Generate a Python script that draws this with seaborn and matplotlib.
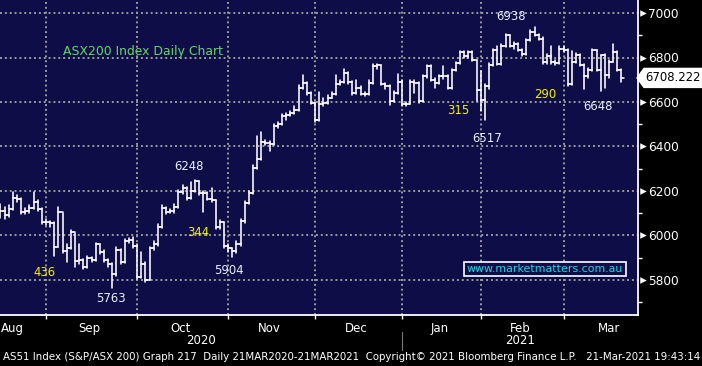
import numpy as np
import pandas as pd
import matplotlib
matplotlib.use("Agg")
import matplotlib.pyplot as plt
import matplotlib.transforms as mtransforms
from matplotlib.lines import Line2D
from matplotlib.patches import Polygon
import seaborn as sns

# ---------------- data ----------------
month_names = ["Aug", "Sep", "Oct", "Nov", "Dec", "Jan", "Feb", "Mar"]
year_labels = ["2020", "2021"]

first_open = 6130

aug_close = [6110, 6090, 6120, 6170, 6165, 6105, 6110, 6125, 6150, 6120, 6060]
aug_high = [6140, 6130, 6135, 6195, 6180, 6170, 6125, 6135, 6195, 6160, 6125]
aug_low = [6080, 6075, 6085, 6115, 6150, 6095, 6095, 6100, 6120, 6110, 6050]

sep_close = [6060, 6055, 5950, 6105, 5930, 5945, 6015, 5885, 5890, 5860, 5900,
             5890, 5960, 5925, 5890, 5870, 5825, 5935, 5880, 5975, 5980, 5955]
sep_high = [6075, 6065, 6060, 6130, 6100, 5960, 6025, 6010, 5960, 5895, 5910,
            5905, 5965, 5960, 5935, 5895, 5875, 5950, 5940, 5985, 5990, 5995]
sep_low = [6045, 6040, 5910, 5950, 5920, 5880, 5940, 5860, 5870, 5850, 5855,
           5880, 5885, 5915, 5880, 5860, 5763, 5820, 5870, 5875, 5965, 5945]

oct_close = [5815, 5870, 5800, 5945, 5960, 6040, 6125, 6105, 6110, 6130, 6195,
             6215, 6170, 6200, 6245, 6190, 6190, 6165, 6160, 6040, 6060, 5955]
oct_high = [5960, 5925, 5880, 5950, 5975, 6050, 6135, 6130, 6120, 6140, 6205,
            6225, 6220, 6240, 6248, 6245, 6200, 6195, 6215, 6160, 6070, 6060]
oct_low = [5805, 5810, 5790, 5800, 5935, 5955, 6035, 6095, 6100, 6100, 6125,
           6185, 6160, 6165, 6195, 6180, 6105, 6160, 6150, 6030, 6030, 5945]

nov_close = [5945, 5930, 5960, 6065, 6145, 6190, 6305, 6345, 6420, 6415, 6410,
             6490, 6500, 6535, 6540, 6550, 6565, 6665, 6685, 6640, 6595]
nov_high = [5960, 5945, 5975, 6075, 6155, 6200, 6315, 6445, 6465, 6430, 6425,
            6500, 6510, 6545, 6550, 6560, 6580, 6675, 6720, 6690, 6645]
nov_low = [5925, 5904, 5920, 5955, 6055, 6140, 6185, 6300, 6340, 6405, 6380,
           6405, 6485, 6495, 6520, 6535, 6545, 6560, 6660, 6630, 6590]

dec_close = [6520, 6590, 6595, 6620, 6635, 6680, 6690, 6730, 6690, 6640, 6665,
             6635, 6635, 6685, 6760, 6765, 6680, 6670, 6605, 6640, 6690]
dec_high = [6600, 6645, 6620, 6630, 6645, 6720, 6700, 6750, 6735, 6695, 6700,
            6670, 6645, 6700, 6770, 6770, 6765, 6685, 6675, 6650, 6725]
dec_low = [6510, 6515, 6580, 6590, 6620, 6630, 6675, 6685, 6680, 6630, 6635,
           6630, 6625, 6630, 6680, 6750, 6675, 6660, 6585, 6600, 6635]

jan_close = [6590, 6590, 6690, 6685, 6605, 6715, 6760, 6700, 6685, 6715, 6715,
             6665, 6745, 6775, 6825, 6805, 6825, 6790, 6655]
jan_high = [6700, 6600, 6700, 6700, 6690, 6720, 6765, 6765, 6710, 6720, 6760,
            6720, 6750, 6780, 6830, 6830, 6830, 6830, 6790]
jan_low = [6580, 6580, 6590, 6640, 6595, 6600, 6710, 6695, 6665, 6680, 6705,
           6660, 6660, 6740, 6770, 6800, 6800, 6785, 6605]

feb_close = [6610, 6670, 6765, 6835, 6770, 6850, 6900, 6850, 6860, 6835, 6815,
             6880, 6915, 6900, 6885, 6780, 6805, 6780, 6775, 6840]
feb_high = [6740, 6680, 6775, 6840, 6850, 6860, 6905, 6900, 6870, 6865, 6840,
            6885, 6925, 6938, 6905, 6890, 6815, 6850, 6790, 6850]
feb_low = [6560, 6517, 6660, 6760, 6765, 6765, 6845, 6845, 6840, 6830, 6805,
           6810, 6875, 6895, 6880, 6770, 6770, 6770, 6765, 6770]

mar_close = [6835, 6680, 6780, 6810, 6765, 6715, 6745, 6835, 6745, 6810, 6720,
             6780, 6825, 6745, 6708.222]
mar_high = [6850, 6840, 6830, 6820, 6815, 6770, 6755, 6840, 6835, 6810, 6815,
            6790, 6860, 6830, 6750]
mar_low = [6825, 6670, 6675, 6775, 6760, 6660, 6710, 6740, 6740, 6648, 6665,
           6710, 6780, 6740, 6690]

ytick_values = [5800, 6000, 6200, 6400, 6600, 6800, 7000]
yminor_values = [5700, 5900, 6100, 6300, 6500, 6700, 6900]
last_price = 6708.222

white_labels = ["6938", "6248", "5904", "5763", "6517", "6648"]
yellow_labels = ["436", "344", "315", "290"]
title_text = "ASX200 Index Daily Chart"
watermark = "www.marketmatters.com.au"
footer = ("AS51 Index (S&P/ASX 200) Graph 217  Daily 21MAR2020-21MAR2021  "
          "Copyright\u00a9 2021 Bloomberg Finance L.P.   21-Mar-2021 19:43:14")

# ---------------- assemble ----------------
closes = aug_close + sep_close + oct_close + nov_close + dec_close + jan_close + feb_close + mar_close
highs = aug_high + sep_high + oct_high + nov_high + dec_high + jan_high + feb_high + mar_high
lows = aug_low + sep_low + oct_low + nov_low + dec_low + jan_low + feb_low + mar_low
month_lengths = [len(m) for m in (aug_close, sep_close, oct_close, nov_close,
                                  dec_close, jan_close, feb_close, mar_close)]
opens = [first_open] + closes[:-1]
n = len(closes)

rows = []
for i in range(n):
    rows += [(i, lows[i], f"v{i}"), (i, highs[i], f"v{i}"),
             (i - 0.5, opens[i], f"o{i}"), (i, opens[i], f"o{i}"),
             (i, closes[i], f"c{i}"), (i + 0.5, closes[i], f"c{i}")]
df = pd.DataFrame(rows, columns=["x", "y", "seg"])

month_starts = np.cumsum([0] + month_lengths[:-1])

# ---------------- figure ----------------
sns.set_theme(style="dark")
plt.rcParams["font.family"] = ["DejaVu Sans"]

W, H = 702, 366
fig = plt.figure(figsize=(W / 100, H / 100), dpi=100, facecolor="black")
AXW, AXH = 638, 315
ax = fig.add_axes([0, (H - AXH) / H, AXW / W, AXH / H])
navy = "#0f0d47"
ax.set_facecolor(navy)

sns.lineplot(data=df, x="x", y="y", units="seg", estimator=None, sort=False,
             color="white", lw=1.15, ax=ax, legend=False)

px_per_bar = 4.14
x_left = month_starts[1] - 46 / px_per_bar
x_right = month_starts[1] + (AXW - 46) / px_per_bar
ax.set_xlim(x_left, x_right)
ppp = 0.2225  # pixels per point
ax.set_ylim(7000 - (AXH - 13) / ppp, 7000 + 13 / ppp)

# grid
grid_kw = dict(color="#9a9a9a", lw=1.4, linestyle=(0, (1, 1.5)), zorder=0)
for v in ytick_values:
    ax.axhline(v, **grid_kw)
for s in month_starts[1:]:
    ax.axvline(s, **grid_kw)
ax.grid(False)

for side in ["top", "left"]:
    ax.spines[side].set_visible(False)
for side in ["right", "bottom"]:
    ax.spines[side].set_visible(True)
    ax.spines[side].set_color("white")
    ax.spines[side].set_linewidth(1.3)

ax.set_xlabel("")
ax.set_ylabel("")

# y axis on right
ax.yaxis.tick_right()
ax.set_yticks(ytick_values)
ax.set_yticklabels([str(v) for v in ytick_values])
ax.set_yticks(yminor_values, minor=True)
ax.tick_params(axis="y", which="major", length=0, pad=7.0, labelsize=8.7,
               labelcolor="white", right=True, left=False, labelright=True, labelleft=False)
ax.tick_params(axis="y", which="minor", length=3.2, width=1, color="white",
               right=True, left=False)
tri_tr = mtransforms.blended_transform_factory(ax.transAxes, ax.transData)
ax.scatter([1 + 5 / AXW] * len(ytick_values), ytick_values, marker=">", s=22,
           color="white", transform=tri_tr, clip_on=False, zorder=5, linewidths=0)

# x axis
ax.set_xticks(month_starts[1:])
ax.set_xticklabels([])
ax.tick_params(axis="x", which="major", length=3, width=1, color="white",
               bottom=True, direction="out")
mids = [x_left + 12 / px_per_bar]
full_month_days = [21, 22, 22, 21, 21, 19, 20, 23]
for k in range(1, len(month_names)):
    mids.append(month_starts[k] + (full_month_days[k] - 1) / 2)
ax.set_xticks(mids, minor=True)
ax.set_xticklabels(month_names, minor=True)
ax.tick_params(axis="x", which="minor", length=0, pad=5, labelsize=8.5,
               labelcolor="white")

def fx(px):
    return px / W

def fy(py):
    return 1 - py / H

# year row
fig.text(fx(201), fy(341), year_labels[0], ha="center", va="center", color="white", fontsize=8.5)
fig.text(fx(520), fy(341), year_labels[1], ha="center", va="center", color="white", fontsize=8.5)
fig.add_artist(Line2D([fx(402), fx(402)], [fy(332), fy(350)], color="#7a7a7a", lw=0.8))

# footer
fig.text(fx(3), fy(357), footer, ha="left", va="center", color="white", fontsize=7.35)

# title
fig.text(fx(63), fy(52), title_text, ha="left", va="center", color="#62d862", fontsize=8.9)

# value labels
white_pos = [(511, 17), (189, 167), (229, 270), (111, 299), (487, 138), (598, 107)]
yellow_pos = [(44, 273), (198, 232), (458, 111), (545, 95)]
for t, (px, py) in zip(white_labels, white_pos):
    fig.text(fx(px), fy(py), t, ha="center", va="center", color="#e8f0ff", fontsize=8.4)
for t, (px, py) in zip(yellow_labels, yellow_pos):
    fig.text(fx(px), fy(py), t, ha="center", va="center", color="#f2f200", fontsize=8.4)

# watermark
fig.text(fx(545), fy(269), watermark, ha="center", va="center", color="#1ad6e6",
         fontsize=7.9, bbox=dict(boxstyle="square,pad=0.22", fc=navy, ec="white", lw=1.2))

# last price tag
py_last = 13 + (7000 - last_price) * ppp
poly = Polygon([(fx(637), fy(py_last)), (fx(644), fy(py_last - 9.5)), (fx(702), fy(py_last - 9.5)),
                (fx(702), fy(py_last + 9.5)), (fx(644), fy(py_last + 9.5))],
               closed=True, transform=fig.transFigure, fc="white", ec="white", zorder=10)
fig.add_artist(poly)
fig.text(fx(673), fy(py_last), f"{last_price:.3f}", ha="center", va="center",
         color="black", fontsize=8.4, zorder=11)

fig.savefig("out.png", dpi=100, facecolor="black")
